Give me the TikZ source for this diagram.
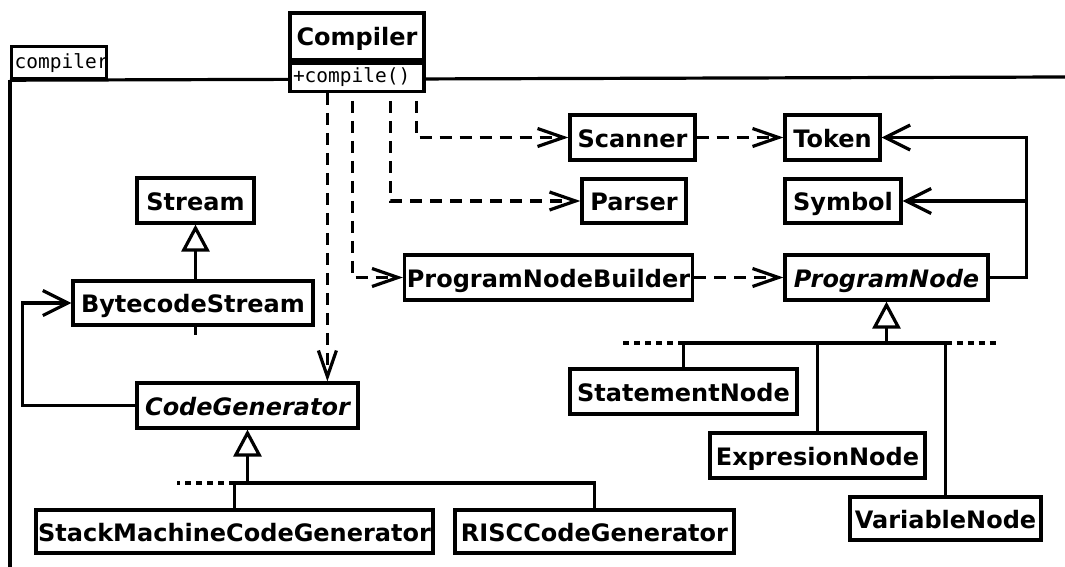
\documentclass[tikz,border=0pt]{standalone}
\usepackage{fontspec}
\setmainfont{DejaVu Sans}
\newfontfamily\umlmono{DejaVu Sans Mono}
\usetikzlibrary{arrows.meta,calc}
\begin{document}
\begin{tikzpicture}[x=1pt,y=-1pt,line width=3.2pt,
  cls/.style={draw,fill=white,inner sep=0pt,text height=19pt,text depth=0pt,font=\fontsize{24}{28}\selectfont\bfseries},
  abscls/.style={cls,font=\fontsize{24}{28}\selectfont\bfseries\itshape},
  monotext/.style={font=\umlmono\fontsize{19.5}{22}\selectfont},
  dep/.style={dash pattern=on 12pt off 8pt,-{Straight Barb[length=26pt,width=18pt]}},
  assoc/.style={-{Straight Barb[length=25pt,width=25pt]}},
  inh/.style={-{Triangle[length=27pt,width=28pt,fill=white]}},
  elided/.style={dash pattern=on 6pt off 5pt}]
\useasboundingbox (0,0) rectangle (1065,567);
% package frame
\node[draw,fill=white,inner xsep=3pt,inner ysep=0pt,text width=89pt,minimum height=32pt,anchor=north west,monotext,align=left] (tab) at (10,45) {compiler};
\draw (tab.south west) -- (10,567);
\draw (tab.south west) -- (1066,77);
% Compiler
\node[cls,minimum width=134pt,minimum height=47pt] (compiler) at (357,36.5) {Compiler};
\node[draw,fill=white,inner xsep=3pt,inner ysep=0pt,text width=128pt,minimum height=28pt,anchor=north,monotext,align=left] (compile) at (compiler.south) {+compile()};
% classes
\node[cls,minimum width=117pt,minimum height=45pt] (stream) at (195.5,200.5) {Stream};
\node[cls,minimum width=240pt,minimum height=44pt] (bs) at (193,303) {BytecodeStream};
\node[abscls,minimum width=221pt,minimum height=45pt] (cg) at (247.5,405.5) {CodeGenerator};
\node[cls,minimum width=397pt,minimum height=43pt] (smcg) at (234.5,531.5) {StackMachineCodeGenerator};
\node[cls,minimum width=279pt,minimum height=43pt] (risc) at (594.5,531.5) {RISCCodeGenerator};
\node[cls,minimum width=125pt,minimum height=45pt] (scanner) at (632.5,137.5) {Scanner};
\node[cls,minimum width=95pt,minimum height=45pt] (token) at (832.5,137.5) {Token};
\node[cls,minimum width=104pt,minimum height=44pt] (parser) at (634,201) {Parser};
\node[cls,minimum width=116pt,minimum height=44pt] (symbol) at (843,201) {Symbol};
\node[cls,minimum width=288pt,minimum height=45pt] (pnb) at (548.5,277.5) {ProgramNodeBuilder};
\node[abscls,minimum width=203pt,minimum height=45pt] (pn) at (886.5,277.5) {ProgramNode};
\node[cls,minimum width=227pt,minimum height=45pt] (sn) at (683.5,391.5) {StatementNode};
\node[cls,minimum width=215pt,minimum height=45pt] (en) at (817.5,455.5) {ExpresionNode};
\node[cls,minimum width=191pt,minimum height=43pt] (vn) at (945.5,518.5) {VariableNode};
% dependencies from Compiler
\coordinate (d1) at ($(compile.south west)+(39,0)$);
\coordinate (d2) at ($(compile.south west)+(64,0)$);
\coordinate (d3) at ($(compile.south west)+(102,0)$);
\coordinate (d4) at ($(compile.south west)+(128,0)$);
\draw[dep] (d1) -- (d1 |- cg.north);
\draw[dep,dash phase=12pt] (d2) |- (pnb.west);
\draw[dep,dash phase=12pt] (d3) |- (parser.west);
\draw[dep,dash phase=12pt] (d4) |- (scanner.west);
\draw[dep] (scanner) -- (token);
\draw[dep] (pnb) -- (pn);
% associations
\coordinate (pj) at ($(pn.east)+(37,0)$);
\draw[assoc] (pn.east) -- (pj) |- (token.east);
\draw[assoc] (pj) |- (symbol.east);
\coordinate (cj) at ($(cg.west)+(-113,0)$);
\draw[assoc] (cg.west) -- (cj) |- (bs.west);
% generalizations
\draw[inh] (stream.south |- bs.north) -- (stream.south);
\draw (stream.south |- bs.south) -- ++(0,8);
\coordinate (ybarA) at (0,483);
\coordinate (ybarB) at (0,343);
\coordinate (cgbar) at (cg.south |- ybarA);
\coordinate (pnbar) at (pn.south |- ybarB);
\draw[inh] (cgbar) -- (cg.south);
\draw (smcg.north) |- (cgbar);
\draw (risc.north) |- (cgbar);
\draw[elided] (smcg.north |- cgbar) -- ++(-58,0);
\draw[inh] (pnbar) -- (pn.south);
\draw (sn.north) |- (pnbar);
\draw (en.north) |- (pnbar);
\draw (vn.north) |- (pnbar);
\draw[elided] (sn.north |- pnbar) -- ++(-62,0);
\draw[elided] (vn.north |- pnbar) -- ++(52,0);
\end{tikzpicture}
\end{document}
